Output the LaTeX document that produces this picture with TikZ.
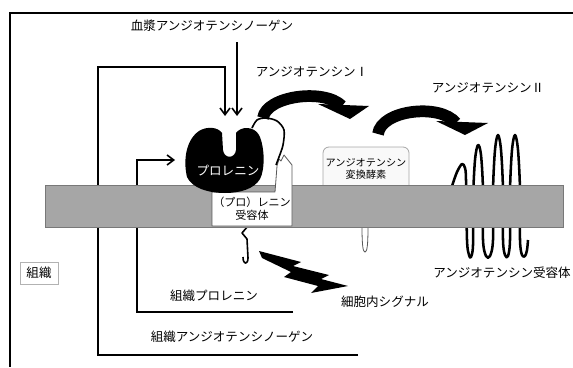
\documentclass[tikz,border=0pt]{standalone}
\usepackage{fontspec}
\setmainfont{Noto Sans CJK JP}
\usetikzlibrary{arrows.meta}
\definecolor{membraneGray}{RGB}{166,166,166}
\definecolor{membraneEdge}{RGB}{120,120,120}
\begin{document}
\begin{tikzpicture}[x=0.75pt,y=-0.75pt,
  lbl/.style={inner sep=0pt, font=\fontsize{9.4}{11}\selectfont},
  smalllbl/.style={inner sep=0pt, align=center, font=\fontsize{7.6}{9}\selectfont},
  wire/.style={line width=1.5pt},
  barb/.style={-{Straight Barb[length=5pt,width=7.5pt,line width=1.2pt]}},
  band/.style={line width=8.8pt},
  strand/.style={line width=1.9pt, line join=round},
]
\useasboundingbox (0,0) rectangle (573,367);

% outer frame
\draw[line width=2pt] (9,13) -- (573,13);
\draw[line width=1.5pt] (10,13) -- (10,367);

% anchor points for the arrows reaching the prorenin
\coordinate (prTopL) at (225,116);
\coordinate (prTopR) at (237,116);
\coordinate (prLeft) at (175,160);
\coordinate (tisAgtEnd) at (358,355);
\coordinate (tisProEnd) at (293,312);

% labels
\node[lbl] (plasmaAgt) at (212,26) {血漿アンジオテンシノーゲン};
\node[lbl] (angI) at (312,72) {アンジオテンシンⅠ};
\node[lbl] (angII) at (488,88) {アンジオテンシンⅡ};
\node[lbl] (at1r) at (502,273) {アンジオテンシン受容体};
\node[lbl] (signal) at (385,302) {細胞内シグナル};
\node[lbl] (tisPro) at (214,296) {組織プロレニン};
\node[lbl] (tisAgt) at (232,337) {組織アンジオテンシノーゲン};
\node[lbl, draw=gray!60, line width=0.5pt, minimum width=28.5pt, minimum height=16.5pt] (tissue) at (39,273) {組織};

% tissue pathways (pass behind the membrane)
\draw[wire,barb] (tisAgtEnd) -- (98,355) -- (98,67) -- (prTopL |- 0,67) -- (prTopL);
\draw[wire,barb] (tisProEnd) -- (137,312) -- (137,160) -- (prLeft);
% plasma pathway
\draw[wire,barb] ([yshift=-7.5pt]plasmaAgt.south -| prTopR) -- (prTopR);

% angiotensin receptor (seven transmembrane strand)
\draw[strand] plot[smooth, tension=0.55] coordinates {
  (452,186) (457,172) (462,164) (465,168) (466,180) (467,240) (469,255) (471,257)
  (473,245) (473,200) (475,160) (478,145) (481,155) (483,190) (483,240) (486,256)
  (490,256) (493,240) (493,190) (495,150) (498,135) (501,150) (503,190) (503,240)
  (505,255) (508,256) (510,240) (510,190) (512,150) (515,135) (518,150) (520,190)
  (520,240) (522,255) (525,256) (527,250) (528,240)};

% angiotensin converting enzyme
\draw[fill=gray!5, draw=gray!70, line width=0.6pt, rounded corners=4.5pt] (323,147) rectangle (409,195);
\draw[fill=white, draw=gray!70!black, line width=0.6pt] (362,226) .. controls (362,246) and (363,252) .. (365,252) .. controls (367,252) and (368,246) .. (368,226);

% renin receptor cytoplasmic tail
\draw[line width=1.2pt, line join=round] (248,226) -- (242,233) -- (247,239) -- (248,258) .. controls (248,265) and (243,265) .. (243,257);

% cell membrane
\draw[fill=membraneGray, draw=membraneEdge, line width=0.6pt] (45,185) rectangle (563,227);

% ACE label
\node[smalllbl] (ace) at (366,169) {アンジオテンシン\\変換酵素};

% (pro)renin receptor
\draw[fill=white, draw=gray!70!black, line width=0.6pt, line join=round]
  (212,192) -- (275,192) -- (277,166) -- (279,159) -- (281,161) -- (284,155)
  -- (292,165) -- (292,226) -- (212,226) -- cycle;
\node[inner sep=0pt, align=center, font=\fontsize{8.3}{10}\selectfont] (prr) at (252,209) {（プロ）レニン\\受容体};

% prorenin
\fill (187,177) .. controls (183,160) and (186,140) .. (199,131)
  .. controls (207,126) and (218,127) .. (222,133) -- (223,150)
  .. controls (224,159) and (235,159) .. (236,150) -- (236,133)
  .. controls (241,126) and (254,126) .. (259,135)
  .. controls (265,147) and (265,170) .. (260,179)
  .. controls (254,189) and (240,193) .. (225,193)
  .. controls (208,193) and (192,188) .. (187,177) -- cycle;
\node[lbl, text=white] (prorenin) at (228,171) {プロレニン};

% receptor extracellular strand binding prorenin
\draw[line width=1.2pt] plot[smooth] coordinates {(252,128) (257,120) (266,118) (277,121) (284,130) (283,145) (279,157) (276,165)};

% conversion arrows
\draw[band] (263,118) .. controls (266,96) and (324,88) .. (342,106);
\fill (318,104) -- (369,106) -- (350,119) -- cycle;
\draw[band] (378,134) .. controls (381,110) and (440,103) .. (456,123);
\fill (436,121) -- (488,123) -- (465,135) -- cycle;

% intracellular signal bolt
\fill (259,251) -- (301,262) -- (293,266) -- (329,275) -- (321,279) -- (348,286)
  -- (311,293) -- (318,286) -- (284,277) -- (291,272) -- (262,258) -- cycle;
\end{tikzpicture}
\end{document}
